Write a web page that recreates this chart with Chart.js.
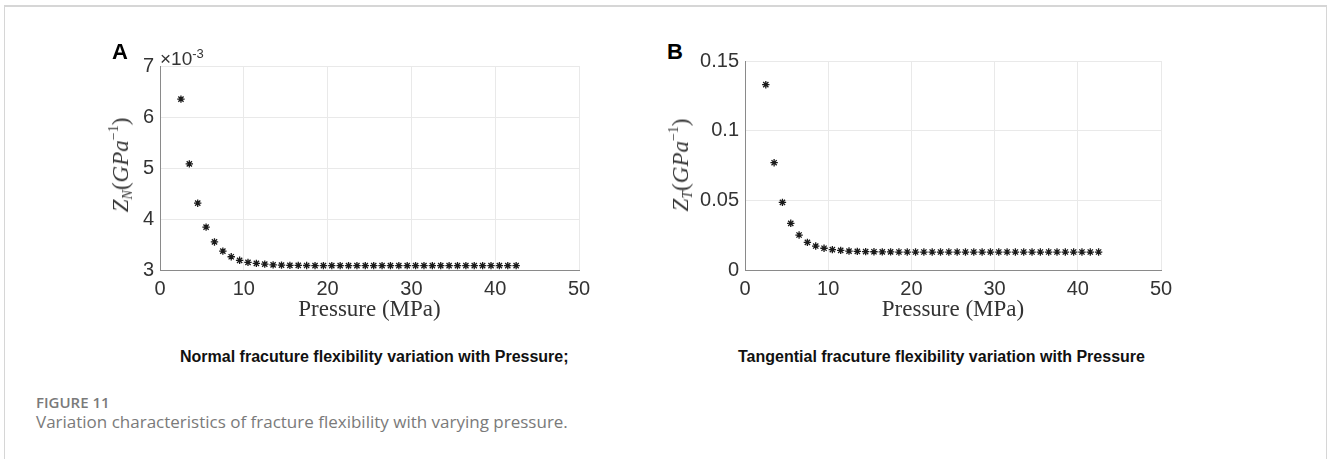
<!DOCTYPE html>
<html>
<head>
<meta charset="utf-8">
<script src="https://cdn.jsdelivr.net/npm/chart.js@4.4.1/dist/chart.umd.min.js"></script>
<style>
  html, body { margin: 0; padding: 0; background: #fff; }
  body { width: 1328px; height: 459px; position: relative; overflow: hidden;
         font-family: "Liberation Sans", Arial, sans-serif; }
  .frame { position: absolute; left: 4px; top: 5px; width: 1321px; height: 470px;
           border: 1px solid #d6d6d6; border-top: 2px solid #d6d6d6; border-bottom: none; }
  canvas { position: absolute; }
  #cNormal { left: 100px; top: 40px; }
  #cTang   { left: 685px; top: 40px; }
  .abs { position: absolute; white-space: nowrap; line-height: 1; }
  .panel { font-size: 22px; font-weight: bold; color: #000; }
  .expo { font-size: 19px; color: #333; }
  .expo sup { font-size: 13px; vertical-align: 7px; }
  .ytitle { font-family: "Liberation Serif", "Times New Roman", serif; font-size: 23px; color: #333;
            transform: translate(-50%, -50%) rotate(-90deg); }
  .ytitle sub { font-size: 14px; vertical-align: -4px; }
  .ytitle sup { font-size: 14px; vertical-align: 10px; font-style: normal; }
  .caption { font-size: 16px; font-weight: bold; color: #111; }
  .figno { font-family: "Open Sans", "Noto Sans", sans-serif; font-size: 15px; font-weight: 600; color: #7a7a7a; }
  .figtext { font-family: "Open Sans", "Noto Sans", sans-serif; font-size: 17px; color: #7a7a7a; }
</style>
</head>
<body>
<div class="frame"></div>

<canvas id="cNormal" width="499" height="285"></canvas>
<canvas id="cTang" width="496" height="285"></canvas>

<div class="abs panel" style="left:112px; top:41px;">A</div>
<div class="abs panel" style="left:667px; top:41px;">B</div>
<div class="abs expo" style="left:160px; top:47px;">×10<sup>-3</sup></div>

<div class="abs ytitle" style="left:121px; top:165px;"><i>Z</i><sub><i>N</i></sub>(<i>GPa</i><sup>−1</sup>)</div>
<div class="abs ytitle" style="left:681px; top:165px;"><i>Z</i><sub><i>T</i></sub>(<i>GPa</i><sup>−1</sup>)</div>

<div class="abs caption" style="left:180px; top:349px;">Normal fracuture flexibility variation with Pressure;</div>
<div class="abs caption" style="left:738px; top:349px;">Tangential fracuture flexibility variation with Pressure</div>

<div class="abs figno" style="left:36px; top:395px;">FIGURE 11</div>
<div class="abs figtext" style="left:36px; top:413px;">Variation characteristics of fracture flexibility with varying pressure.</div>

<script>
// ── DATA ──
const pressure = [2.5, 3.5, 4.5, 5.5, 6.5, 7.5, 8.5, 9.5, 10.5, 11.5,
                  12.5, 13.5, 14.5, 15.5, 16.5, 17.5, 18.5, 19.5, 20.5, 21.5,
                  22.5, 23.5, 24.5, 25.5, 26.5, 27.5, 28.5, 29.5, 30.5, 31.5,
                  32.5, 33.5, 34.5, 35.5, 36.5, 37.5, 38.5, 39.5, 40.5, 41.5, 42.5];

// normal fracture flexibility, GPa^-1
const zNormal = [0.00635, 0.00508, 0.00431, 0.00384, 0.00355, 0.00337, 0.00326, 0.00319, 0.00315, 0.00313,
                 0.003115, 0.00310, 0.003095, 0.00309, 0.00309, 0.003088, 0.003086, 0.003085, 0.003085, 0.003085,
                 0.003085, 0.003085, 0.003085, 0.003085, 0.003085, 0.003085, 0.003085, 0.003085, 0.003085, 0.003085,
                 0.003085, 0.003085, 0.003085, 0.003085, 0.003085, 0.003085, 0.003085, 0.003085, 0.003085, 0.003085, 0.003085];

// tangential fracture flexibility, GPa^-1
const zTangential = [0.133, 0.077, 0.0485, 0.0335, 0.0251, 0.0198, 0.0172, 0.0156, 0.0146, 0.0141,
                     0.0136, 0.0134, 0.0132, 0.0131, 0.0130, 0.0130, 0.0129, 0.0129, 0.0129, 0.0129,
                     0.0129, 0.0129, 0.0129, 0.0129, 0.0129, 0.0129, 0.0129, 0.0129, 0.0129, 0.0129,
                     0.0129, 0.0129, 0.0129, 0.0129, 0.0129, 0.0129, 0.0129, 0.0129, 0.0129, 0.0129, 0.0129];

const xTicks = [0, 10, 20, 30, 40, 50];
const yTicksNormal = [0.003, 0.004, 0.005, 0.006, 0.007];
const yTicksTang = [0, 0.05, 0.1, 0.15];

// ── CHART ──
const TICK_FONT = { family: '"Liberation Sans", Arial, sans-serif', size: 20 };
const GRID = '#e9e9e9';
const AXIS = '#8a8a8a';

function flexChart(id, values, yTicks, fmt, padTop) {
  return new Chart(document.getElementById(id), {
    type: 'scatter',
    data: {
      datasets: [{
        data: pressure.map((x, i) => ({ x, y: values[i] })),
        pointStyle: 'star',
        radius: 3.7,
        borderWidth: 1.3,
        borderColor: '#1a1a1a',
        backgroundColor: '#1a1a1a'
      }]
    },
    options: {
      responsive: false,
      animation: false,
      layout: { padding: { top: padTop, right: 20, bottom: 0, left: 0 } },
      plugins: { legend: { display: false }, tooltip: { enabled: false } },
      scales: {
        x: {
          type: 'linear', min: xTicks[0], max: xTicks[xTicks.length - 1],
          afterBuildTicks: s => { s.ticks = xTicks.map(v => ({ value: v })); },
          afterFit: s => { s.height = 55; },
          grid: { color: GRID, drawTicks: false },
          border: { color: AXIS },
          ticks: { padding: 7, color: '#333', font: TICK_FONT, maxRotation: 0 },
          title: {
            display: true, text: 'Pressure (MPa)', color: '#333',
            font: { family: '"Liberation Serif", "Times New Roman", serif', size: 23 },
            padding: { top: 0, bottom: 1 }
          }
        },
        y: {
          type: 'linear', min: yTicks[0], max: yTicks[yTicks.length - 1],
          afterBuildTicks: s => { s.ticks = yTicks.map(v => ({ value: v })); },
          afterFit: s => { s.width = 60; },
          grid: { color: GRID, drawTicks: false },
          border: { color: AXIS },
          ticks: { padding: 6, color: '#333', font: TICK_FONT, callback: fmt }
        }
      }
    }
  });
}

flexChart('cNormal', zNormal, yTicksNormal, v => String(Math.round(v * 1000)), 26);
flexChart('cTang', zTangential, yTicksTang, v => String(Math.round(v * 100) / 100), 21);
</script>
</body>
</html>
